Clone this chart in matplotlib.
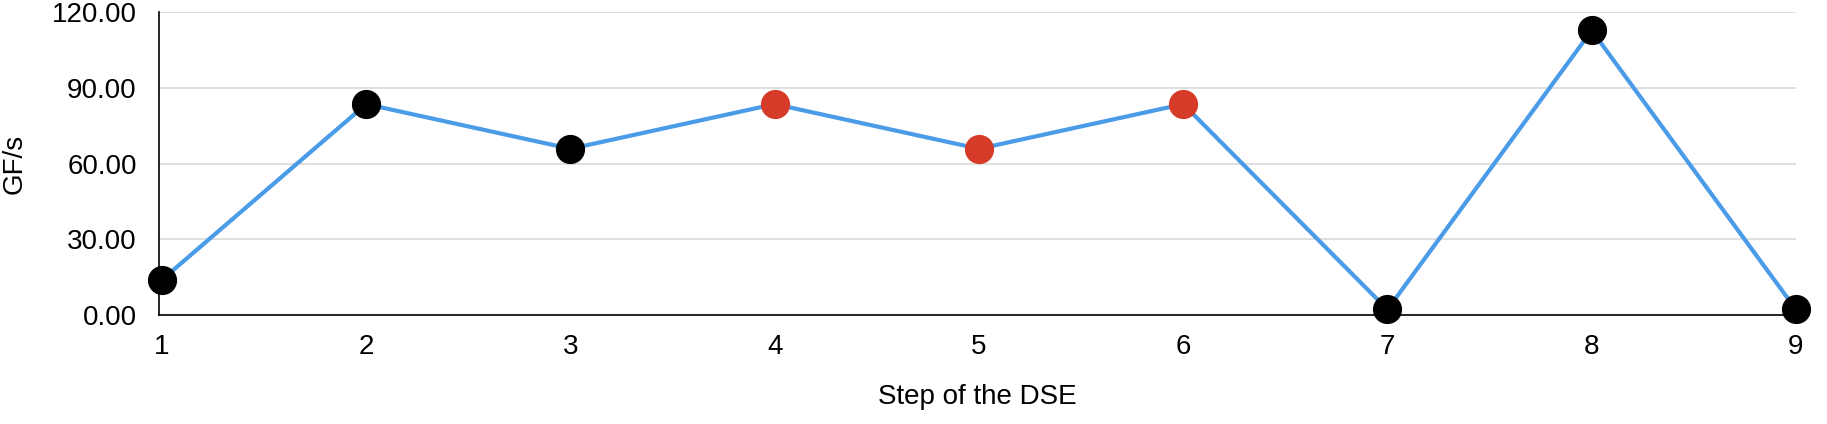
import matplotlib
matplotlib.use("Agg")
import matplotlib.pyplot as plt

steps = [1, 2, 3, 4, 5, 6, 7, 8, 9]
gflops = [14.0, 83.6, 65.9, 83.6, 65.9, 83.6, 2.2, 112.8, 2.2]
point_colors = ["black", "black", "black", "#D63B29", "#D63B29", "#D63B29", "black", "black", "black"]
yticks = [0, 30, 60, 90, 120]

plt.rcParams['font.family'] = ['Liberation Sans', 'DejaVu Sans']

fig = plt.figure(figsize=(18.27, 4.24), dpi=100)
ax = fig.add_axes([0.087, 0.257, 0.896, 0.714])

ax.plot(steps, gflops, color="#4A9BE8", lw=3.0, zorder=2, clip_on=False)
for x, y, c in zip(steps, gflops, point_colors):
    ax.plot([x], [y], "o", color=c, ms=20, zorder=3, clip_on=False)

ax.set_xlim(0.985, 9.0)
ax.set_ylim(0, 120)
ax.set_yticks(yticks)
ax.set_yticklabels([f"{v:.2f}" for v in yticks])
ax.set_xticks(steps)
ax.set_xticklabels([str(s) for s in steps])
ax.tick_params(axis="both", length=0, labelsize=20)
ax.tick_params(axis="x", pad=14)
ax.tick_params(axis="y", pad=16)

ax.grid(axis="y", color="#D9D9D9", lw=1.2)
ax.set_axisbelow(True)
for s in ["top", "right"]:
    ax.spines[s].set_visible(False)
for s in ["left", "bottom"]:
    ax.spines[s].set_color("black")
    ax.spines[s].set_linewidth(1.2)

ax.set_ylabel("GF/s", fontsize=20)
ax.yaxis.set_label_coords(-0.0800, 0.5)
ax.set_xlabel("Step of the DSE", fontsize=20)
ax.xaxis.set_label_coords(0.5, -0.228)

fig.savefig("out.png", dpi=100, facecolor="white")
